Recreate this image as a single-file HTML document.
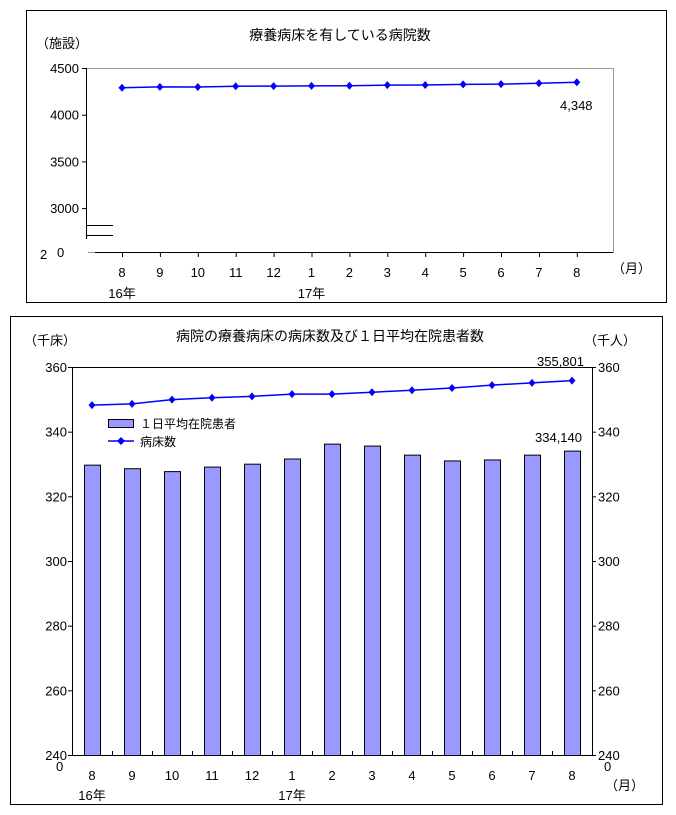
<!DOCTYPE html>
<html><head><meta charset="utf-8">
<style>
body{margin:0;background:#fff;}
svg{display:block;font-family:"Liberation Sans","Noto Sans CJK JP",sans-serif;}
</style></head><body>
<svg id="s" width="676" height="815">
<rect x="26.5" y="10.5" width="640" height="292" fill="none" stroke="#000"/>
<text x="340" y="40" font-size="14" text-anchor="middle">療養病床を有している病院数</text>
<text x="36" y="48" font-size="13">（施設）</text>
<text x="612" y="273" font-size="13">（月）</text>
<rect x="86.5" y="68.5" width="527" height="184" fill="none" stroke="#999"/>
<rect x="80" y="226" width="40" height="24" fill="#fff"/>
<rect x="80" y="238" width="8" height="20" fill="#fff"/>
<line x1="86.5" y1="68" x2="86.5" y2="239" stroke="#000"/>
<line x1="95" y1="252.5" x2="613" y2="252.5" stroke="#000"/>
<line x1="86" y1="225.5" x2="113" y2="225.5" stroke="#000"/>
<line x1="86" y1="235.5" x2="113" y2="235.5" stroke="#000"/>
<text x="40" y="259" font-size="13">2</text>
<text x="57" y="257" font-size="13">0</text>
<text x="560" y="110" font-size="13">4,348</text>
<g id="top"></g>

<rect x="10.5" y="316.5" width="652" height="488" fill="none" stroke="#000"/>
<text x="330" y="341" font-size="14" text-anchor="middle">病院の療養病床の病床数及び１日平均在院患者数</text>
<text x="24" y="345" font-size="13">（千床）</text>
<text x="584" y="345" font-size="13">（千人）</text>
<text x="605" y="790" font-size="13">（月）</text>
<text x="56" y="771" font-size="13">0</text>
<text x="604" y="771" font-size="13">0</text>
<text x="537" y="366" font-size="13">355,801</text>
<text x="535" y="442" font-size="13">334,140</text>
<g id="bot"></g>
<rect x="108.5" y="419.5" width="25" height="8" fill="#9999ff" stroke="#000"/>
<text x="140" y="428" font-size="12">１日平均在院患者</text>
<line x1="108" y1="441" x2="134" y2="441" stroke="#0000ff" stroke-width="1.5"/>
<polygon points="121,437 125,441 121,445 117,441" fill="#0000ff"/>
<text x="140" y="446" font-size="12">病床数</text>
</svg>
<script>
const months=["8","9","10","11","12","1","2","3","4","5","6","7","8"];
const topValues=[4288,4298,4297,4305,4306,4309,4310,4316,4318,4325,4327,4337,4348];
const topTicks=[3000,3500,4000,4500];
const patients=[329.8,328.7,327.8,329.2,330.1,331.7,336.3,335.7,332.9,331.1,331.4,332.9,334.14];
const beds=[348.2,348.6,349.9,350.5,350.9,351.6,351.6,352.2,352.8,353.5,354.4,355.1,355.8];
const botTicks=[240,260,280,300,320,340,360];
const NS="http://www.w3.org/2000/svg";
function mk(p,t,a,txt){const e=document.createElementNS(NS,t);for(const k in a)e.setAttribute(k,a[k]);if(txt!==undefined)e.textContent=txt;p.appendChild(e);return e;}
// top chart
const g1=document.getElementById('top');
const tx=i=>122+i*37.9;
const ty=v=>68+(4500-v)*46.7/500;
topTicks.forEach(v=>{
 const l=mk(g1,'line',{x1:82,x2:87,y1:ty(v)+0.5,y2:ty(v)+0.5,stroke:'#000'});
 
 
 const t=mk(g1,'text',{x:79,y:ty(v)+5,'font-size':13,'text-anchor':'end'},String(v));
 
 
});
months.forEach((m,i)=>{
 const l=mk(g1,'line',{x1:tx(i)+0.5,x2:tx(i)+0.5,y1:252,y2:257,stroke:'#000'});
 
 
 const t=mk(g1,'text',{x:tx(i),y:277,'font-size':13,'text-anchor':'middle'},m);
 
 
});
let t1=mk(g1,'text',{x:tx(0),y:298,'font-size':13,'text-anchor':'middle'},'16年');


t1=mk(g1,'text',{x:tx(5),y:298,'font-size':13,'text-anchor':'middle'},'17年');


const pl=mk(g1,'polyline',{points:topValues.map((v,i)=>tx(i)+','+ty(v)).join(' '),fill:'none',stroke:'#0000ff','stroke-width':1.5});


topValues.forEach((v,i)=>{
 const x=tx(i),y=ty(v);
 const p=mk(g1,'polygon',{points:`${x},${y-4} ${x+3.5},${y} ${x},${y+4} ${x-3.5},${y}`,fill:'#0000ff'});
 
 
});
// bottom chart
const g2=document.getElementById('bot');
const L=72,R=592,T=367,B=755;
const step=(R-L)/13;
const bx=i=>L+step*(i+0.5);
const by=v=>T+(360-v)*(B-T)/120;
mk(g2,'rect',{x:L+0.5,y:T+0.5,width:R-L,height:B-T,fill:'none',stroke:'#000'});
botTicks.forEach(v=>{
 const y=by(v)+0.5;
 let l=mk(g2,'line',{x1:L-4,x2:L,y1:y,y2:y,stroke:'#000'});
 
 
 l=mk(g2,'line',{x1:R,x2:R+4,y1:y,y2:y,stroke:'#000'});
 
 
 let t=mk(g2,'text',{x:L-5,y:by(v)+5,'font-size':13,'text-anchor':'end'},String(v));
 
 
 t=mk(g2,'text',{x:R+6,y:by(v)+5,'font-size':13},String(v));
 
 
});
for(let i=1;i<13;i++){
 const l=mk(g2,'line',{x1:L+step*i+0.5,x2:L+step*i+0.5,y1:B-4,y2:B,stroke:'#000'});
 
 
}
patients.forEach((v,i)=>{
 const r=mk(g2,'rect',{x:bx(i)-8+0.5,y:by(v)+0.5,width:16,height:B-by(v),fill:'#9999ff',stroke:'#000'});
 
 
});
months.forEach((m,i)=>{
 const t=mk(g2,'text',{x:bx(i),y:780,'font-size':13,'text-anchor':'middle'},m);
 
 
});
let t2=mk(g2,'text',{x:bx(0),y:800,'font-size':13,'text-anchor':'middle'},'16年');


t2=mk(g2,'text',{x:bx(5),y:800,'font-size':13,'text-anchor':'middle'},'17年');


const bl=mk(g2,'polyline',{points:beds.map((v,i)=>bx(i)+','+by(v)).join(' '),fill:'none',stroke:'#0000ff','stroke-width':1.5});


beds.forEach((v,i)=>{
 const x=bx(i),y=by(v);
 const p=mk(g2,'polygon',{points:`${x},${y-4} ${x+3.5},${y} ${x},${y+4} ${x-3.5},${y}`,fill:'#0000ff'});
 
 
});
</script>
</body></html>
